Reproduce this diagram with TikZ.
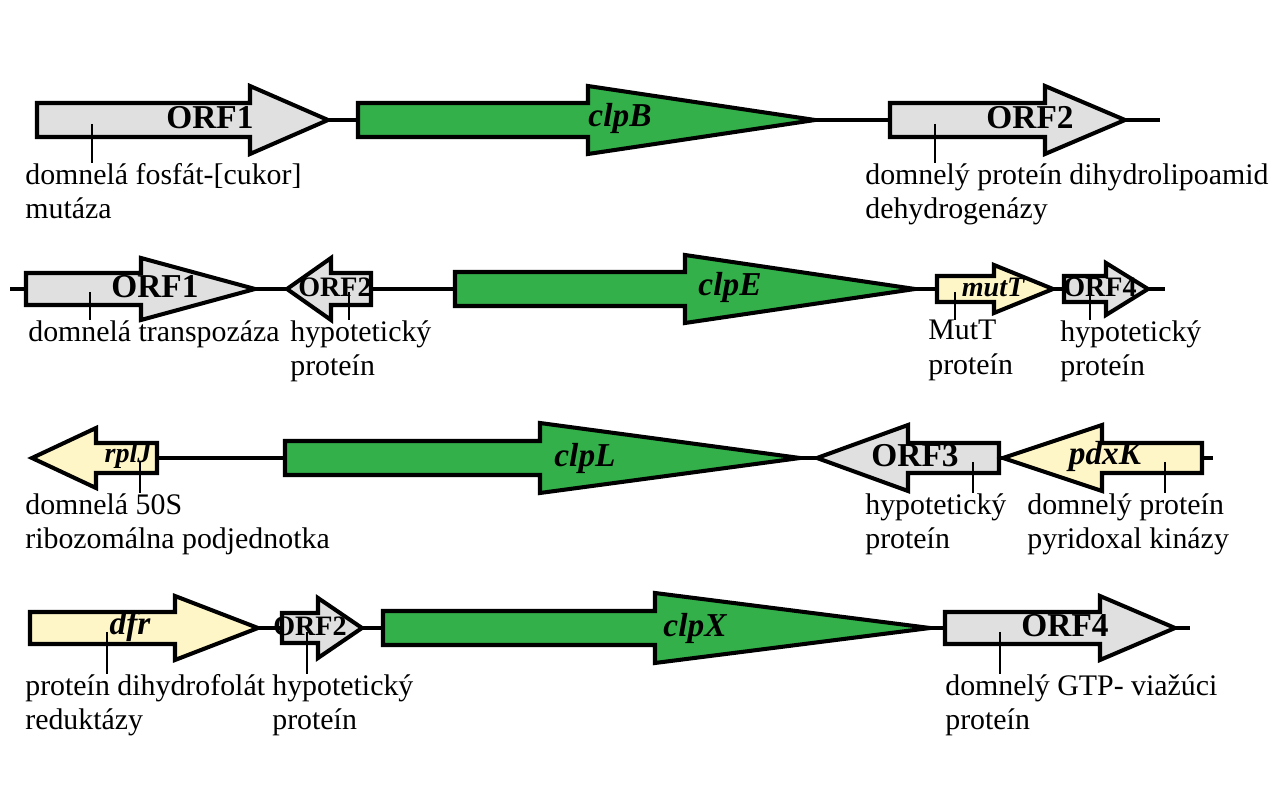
\documentclass[tikz,border=0pt]{standalone}
\usepackage{fontspec}
\setmainfont{Liberation Serif}
\definecolor{orfgrey}{HTML}{E0E0E0}
\definecolor{clpgreen}{HTML}{34B04A}
\definecolor{genyellow}{HTML}{FFF6C8}
% gene arrow: tail x, head base x, tip x, y, body half, head half, fill
\newcommand{\gene}[7]{%
  \draw[gene,fill=#7] (#1,#4-#5) -- (#2,#4-#5) -- (#2,#4-#6) -- (#3,#4)
    -- (#2,#4+#6) -- (#2,#4+#5) -- (#1,#4+#5) -- cycle;}
\tikzset{
  gene/.style={line width=2.3pt,line join=miter},
  spine/.style={line width=2.3pt},
  tick/.style={line width=1pt},
  glab/.style={font=\fontsize{19}{20}\selectfont\bfseries,inner sep=0pt},
  gsml/.style={font=\fontsize{16}{18}\selectfont\bfseries,inner sep=0pt},
  desc/.style={font=\fontsize{17}{19.5}\selectfont,align=left,anchor=north west,inner sep=0pt}
}
\begin{document}
\begin{tikzpicture}[x=0.02cm,y=-0.02cm]
\useasboundingbox (0,0) rectangle (1276,800);

% row 1
\draw[spine] (300,120) coordinate (s1a) -- (1160,120) coordinate (s1b);
\gene{37}{250}{328}{120}{17}{34}{orfgrey}
\gene{358}{588}{815}{120}{17}{34}{clpgreen}
\gene{890}{1045}{1125}{120}{17}{34}{orfgrey}
\node[glab] (r1orf1) at (210,118) {ORF1};
\node[glab] (r1clpb) at (620,118) {\itshape clpB};
\node[glab] (r1orf2) at (1030,118) {ORF2};
\node[desc] (d1a) at (25,163) {domnelá fosfát-[cukor]\\mutáza};
\node[desc] (d1b) at (865,163) {domnelý proteín dihydrolipoamid\\dehydrogenázy};
\coordinate (t1a) at (92,124); \draw[tick] (t1a) -- (t1a |- d1a.north);
\coordinate (t1b) at (935,124); \draw[tick] (t1b) -- (t1b |- d1b.north);

% row 2
\draw[spine] (10,289) coordinate (s2a) -- (1165,289) coordinate (s2b);
\gene{26}{141}{255}{289}{16}{31}{orfgrey}
\gene{371}{331}{287}{289}{16}{31}{orfgrey}
\gene{455}{685}{915}{289}{17}{34}{clpgreen}
\gene{937}{994}{1053}{289}{13}{24}{genyellow}
\gene{1064}{1106}{1148}{289}{13}{26}{orfgrey}
\node[glab] (r2orf1) at (155,287) {ORF1};
\node[gsml] (r2orf2) at (335,287) {ORF2};
\node[gsml] (r2mutt) at (993,287) {\itshape mutT};
\node[gsml] (r2orf4) at (1100,287) {ORF4};
\node[glab] (r2clpe) at (730,287) {\itshape clpE};
\node[desc] (d2a) at (28,320) {domnelá transpozáza};
\node[desc] (d2b) at (290,320) {hypotetický\\proteín};
\node[desc] (d2c) at (928,320) {MutT\\proteín};
\node[desc] (d2d) at (1060,320) {hypotetický\\proteín};
\coordinate (t2a) at (90,292); \draw[tick] (t2a) -- (t2a |- d2a.north);
\coordinate (t2b) at (349,292); \draw[tick] (t2b) -- (t2b |- d2b.north);
\coordinate (t2c) at (955,292); \draw[tick] (t2c) -- (t2c |- d2c.north);
\coordinate (t2d) at (1090,292); \draw[tick] (t2d) -- (t2d |- d2d.north);

% row 3
\draw[spine] (60,458) coordinate (s3a) -- (1213,458) coordinate (s3b);
\gene{157}{96}{32}{458}{15}{30}{genyellow}
\gene{285}{540}{800}{458}{17}{35}{clpgreen}
\gene{999}{908}{817}{458}{15}{33}{orfgrey}
\gene{1202}{1102}{1003}{458}{15}{33}{genyellow}
\node[gsml] (r3rplj) at (128,456) {\itshape rplJ};
\node[glab] (r3clpl) at (585,458) {\itshape clpL};
\node[glab] (r3orf3) at (915,456) {ORF3};
\node[glab] (r3pdxk) at (1105,456) {\itshape pdxK};
\node[desc] (d3a) at (25,493) {domnelá 50S\\ribozomálna podjednotka};
\node[desc] (d3b) at (865,493) {hypotetický\\proteín};
\node[desc] (d3c) at (1027,493) {domnelý proteín\\pyridoxal kinázy};
\coordinate (t3a) at (140,462); \draw[tick] (t3a) -- (t3a |- d3a.north);
\coordinate (t3b) at (973,462); \draw[tick] (t3b) -- (t3b |- d3b.north);
\coordinate (t3c) at (1165,462); \draw[tick] (t3c) -- (t3c |- d3c.north);

% row 4
\draw[spine] (250,628) coordinate (s4a) -- (1190,628) coordinate (s4b);
\gene{30}{175}{258}{628}{16}{32}{genyellow}
\gene{282}{318}{362}{628}{15}{30}{orfgrey}
\gene{383}{655}{930}{628}{17}{35}{clpgreen}
\gene{945}{1100}{1175}{628}{16}{32}{orfgrey}
\node[glab] (r4dfr) at (130,626) {\itshape dfr};
\node[gsml] (r4orf2) at (310,626) {ORF2};
\node[glab] (r4clpx) at (695,628) {\itshape clpX};
\node[glab] (r4orf4) at (1065,626) {ORF4};
\node[desc] (d4a) at (25,674) {proteín dihydrofolát\\reduktázy};
\node[desc] (d4b) at (272,674) {hypotetický\\proteín};
\node[desc] (d4c) at (945,674) {domnelý GTP- viažúci\\proteín};
\coordinate (t4a) at (107,632); \draw[tick] (t4a) -- (t4a |- d4a.north);
\coordinate (t4b) at (307,632); \draw[tick] (t4b) -- (t4b |- d4b.north);
\coordinate (t4c) at (1000,632); \draw[tick] (t4c) -- (t4c |- d4c.north);
\end{tikzpicture}
\end{document}
